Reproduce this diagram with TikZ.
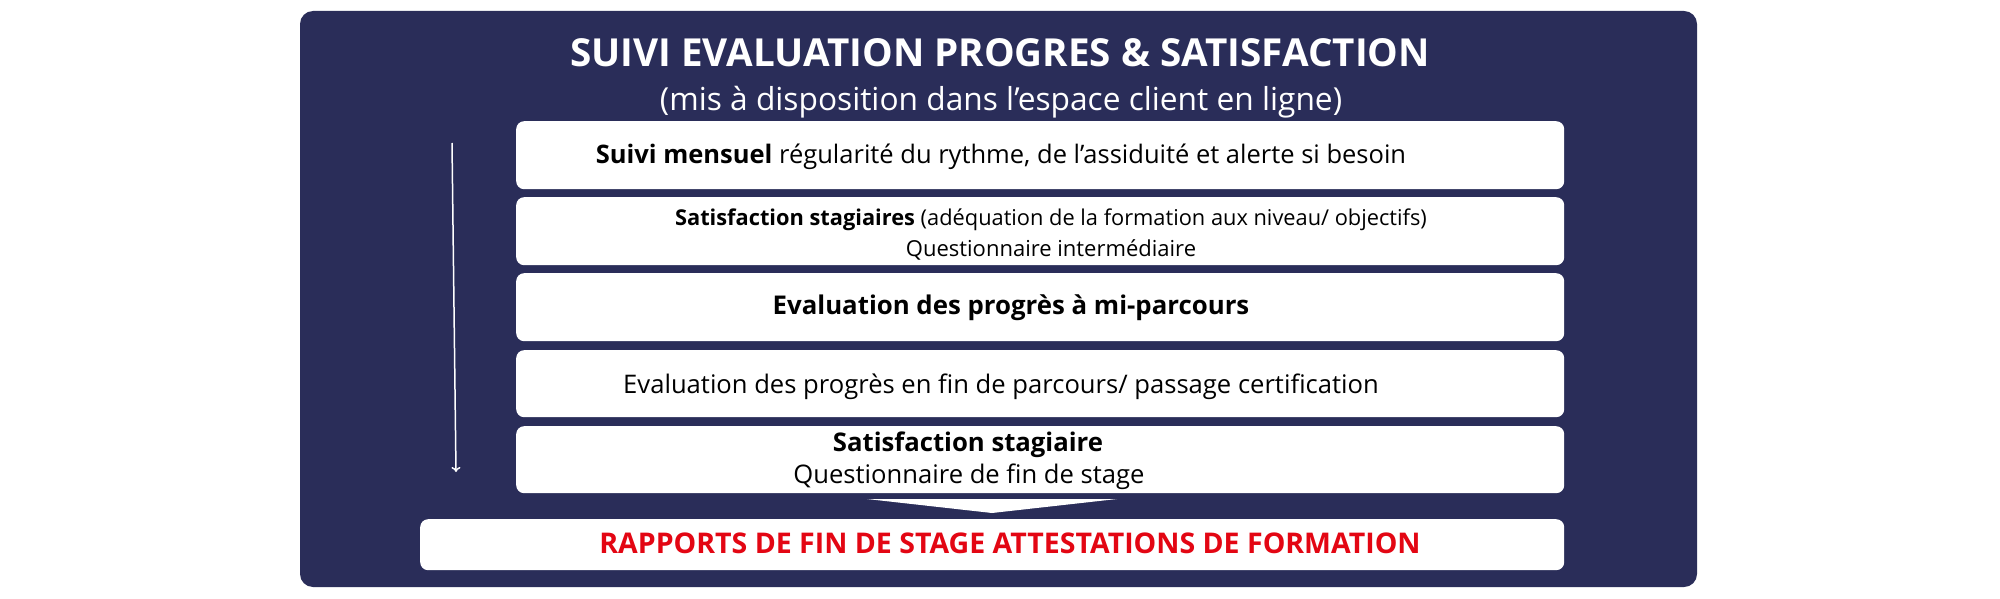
\documentclass[tikz,border=0pt]{standalone}
\usepackage{fontspec}
\setmainfont{Open Sans}
\usetikzlibrary{arrows.meta}
\definecolor{navy}{RGB}{42,45,89}
\definecolor{redtxt}{RGB}{227,6,19}
\begin{document}
\begin{tikzpicture}[x={(1pt,0)},y={(0,-1pt)},
  panel/.style={fill=navy, rounded corners=13pt},
  wbox/.style={fill=white, rounded corners=8pt, inner sep=0pt, anchor=north west, minimum width=1048pt},
  txt/.style={anchor=base, inner sep=0pt, text=black}]
\useasboundingbox (0,0) rectangle (2000,599);
\fill[panel] (300,11) rectangle (1697,587);
\node[txt, text=white, font=\fontsize{38.6}{46}\selectfont\bfseries] (title) at (1000,67) {SUIVI EVALUATION PROGRES \& SATISFACTION};
\node[txt, text=white, font=\fontsize{31.7}{38}\selectfont] (subtitle) at (1001,111) {(mis à disposition dans l’espace client en ligne)};
\node[wbox, minimum height=68pt] (b1) at (516,121) {};
\node[wbox, minimum height=68pt] (b2) at (516,197) {};
\node[wbox, minimum height=68pt] (b3) at (516,273) {};
\node[wbox, minimum height=67pt] (b4) at (516,350) {};
\node[wbox, minimum height=67pt] (b5) at (516,426) {};
\node[wbox, minimum height=51pt, minimum width=1144pt] (final) at (420,519) {};
\node[txt, font=\fontsize{25.5}{30}\selectfont] (t1) at (1001,164) {\textbf{Suivi mensuel} régularité du rythme, de l’assiduité et alerte si besoin};
\node[txt, font=\fontsize{21.8}{26}\selectfont] (t2a) at (1051,225) {\textbf{Satisfaction stagiaires} (adéquation de la formation aux niveau/ objectifs)};
\node[txt, font=\fontsize{22}{26}\selectfont] (t2b) at (1051,256) {Questionnaire intermédiaire};
\node[txt, font=\fontsize{25.8}{31}\selectfont\bfseries] (t3) at (1011,314) {Evaluation des progrès à mi-parcours};
\node[txt, font=\fontsize{25.6}{31}\selectfont] (t4) at (1001,393) {Evaluation des progrès en fin de parcours/ passage certification};
\node[txt, font=\fontsize{25.7}{31}\selectfont\bfseries] (t5a) at (968,451) {Satisfaction stagiaire};
\node[txt, font=\fontsize{25.6}{31}\selectfont] (t5b) at (969,483) {Questionnaire de fin de stage};
\node[txt, text=redtxt, font=\fontsize{28.5}{34}\selectfont\bfseries] (tf) at (1010,553) {RAPPORTS DE FIN DE STAGE ATTESTATIONS DE FORMATION};
\coordinate (as) at (452,143);
\coordinate (ae) at (456,472);
\draw[white, line width=1.5pt, -{To[length=5pt,width=9pt]}] (as) -- (ae);
\fill[white] (867,499) -- (1117,499) -- (992,513) -- cycle;
\end{tikzpicture}
\end{document}
